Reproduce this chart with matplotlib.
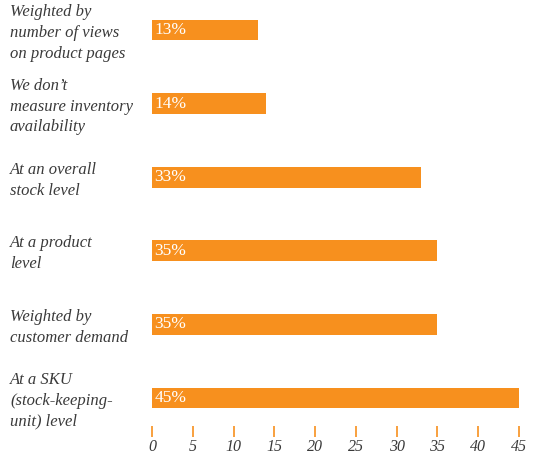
import matplotlib.pyplot as plt
from matplotlib.transforms import blended_transform_factory

categories = [
    "Weighted by\nnumber of views\non product pages",
    "We don\u2019t\nmeasure inventory\navailability",
    "At an overall\nstock level",
    "At a product\nlevel",
    "Weighted by\ncustomer demand",
    "At a SKU\n(stock-keeping-\nunit) level",
]
values = [13, 14, 33, 35, 35, 45]
ticks = [0, 5, 10, 15, 20, 25, 30, 35, 40, 45]

orange = "#F7901E"
grey = "#3a3a3a"
serif = ["Liberation Serif", "DejaVu Serif"]

W, H = 537, 454
fig = plt.figure(figsize=(W / 100, H / 100), dpi=100)
# axes spans x pixels 152..519, y pixels 0..426
ax = fig.add_axes([152 / W, (H - 426) / H, 367 / W, 426 / H])

pos = list(range(len(values)))
ax.barh(pos, values, height=0.285, color=orange)
ax.set_xlim(0, 45)
ax.set_ylim((426 - 30) / 73.6, (0 - 30) / 73.6)

for y, v in zip(pos, values):
    ax.text(0.3, y, f"{v}%", color="white", fontsize=12.5, family=serif,
            ha="left", va="center")

trans = blended_transform_factory(fig.transFigure, ax.transData)
for y, c in zip(pos, categories):
    ax.text(10 / W, y + 0.04, c, transform=trans, fontsize=12, family=serif,
            style="italic", color=grey, ha="left", va="center",
            linespacing=1.4)

for s in ax.spines.values():
    s.set_visible(False)
ax.set_yticks([])
ax.set_xticks(ticks)
ax.set_xticklabels([str(t) for t in ticks], family=serif, style="italic",
                   fontsize=11.5, color=grey)
ax.tick_params(axis="x", direction="out", length=8, width=1.2,
               color=orange, pad=1.5)

fig.savefig("out.png", dpi=100)
